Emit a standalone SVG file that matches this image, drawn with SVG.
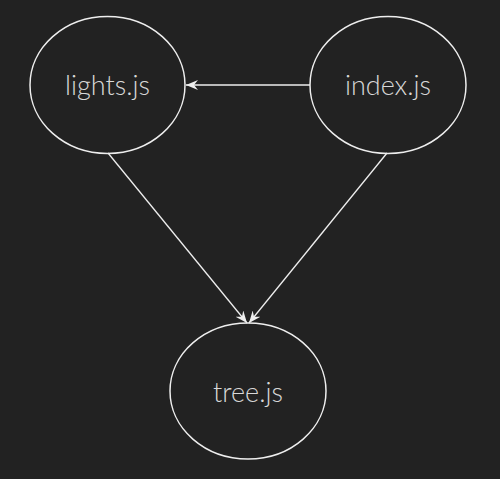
<svg xmlns="http://www.w3.org/2000/svg" width="500" height="479" viewBox="0 0 500 479">
<style>
.node ellipse{fill:none;stroke:#eeeeee;stroke-width:1.5}
.node text{fill:#d8d8d8;font-family:"Lato","Open Sans","DejaVu Sans",sans-serif;font-weight:300;font-size:27px;text-anchor:middle}
.edges line{stroke:#eeeeee;stroke-width:1.3}
</style>
<defs>
<marker id="arr" viewBox="0 0 12 10" refX="12" refY="5" markerWidth="12" markerHeight="10" markerUnits="userSpaceOnUse" orient="auto">
<path d="M12,5 L0,0 L4,5 L0,10 Z" fill="#eeeeee"/>
</marker>
</defs>
<rect width="500" height="479" fill="#222222"/>
<g class="edges">
<line x1="310" y1="85" x2="186" y2="85" marker-end="url(#arr)"/>
<line x1="108" y1="153" x2="247" y2="323" marker-end="url(#arr)"/>
<line x1="387" y1="153" x2="249" y2="323" marker-end="url(#arr)"/>
</g>
<g id="lights" class="node">
<ellipse cx="107.5" cy="85" rx="77.5" ry="68.5"/>
<text x="107.5" y="95">lights.js</text>
</g>
<g id="index" class="node">
<ellipse cx="388" cy="85" rx="78" ry="68.5"/>
<text x="388" y="95">index.js</text>
</g>
<g id="tree" class="node">
<ellipse cx="248" cy="391" rx="78" ry="68"/>
<text x="248" y="402">tree.js</text>
</g>
</svg>
